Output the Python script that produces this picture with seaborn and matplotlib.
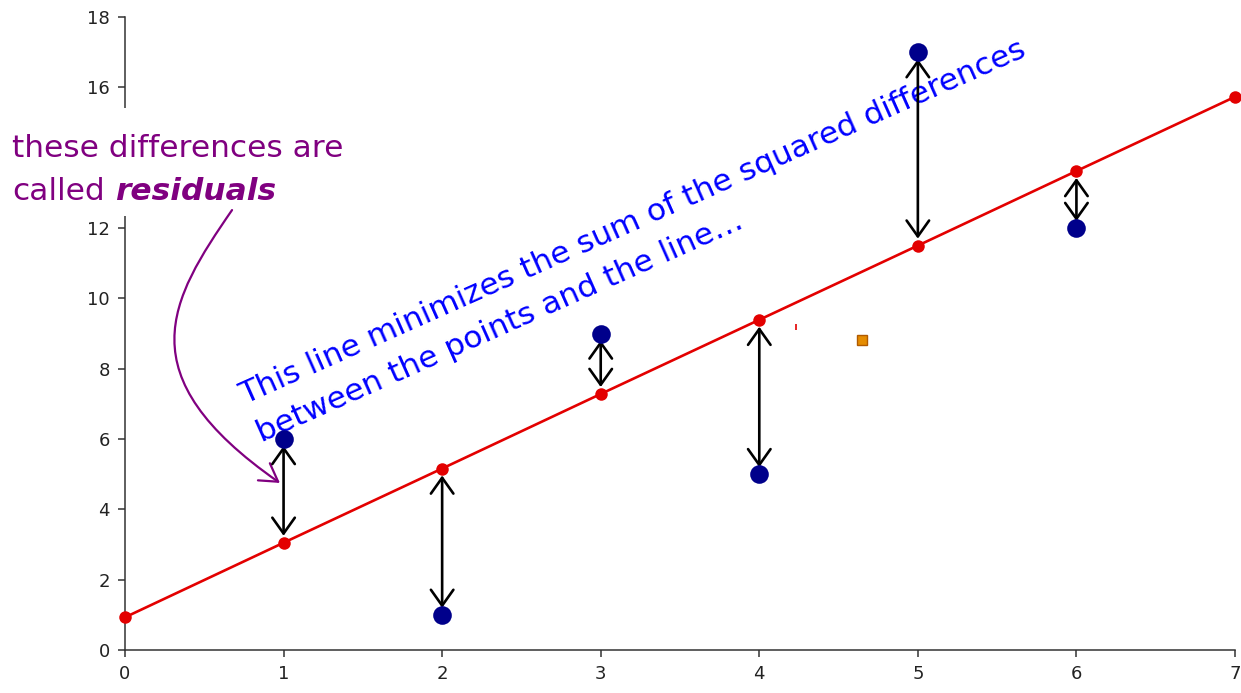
#!/usr/bin/env python3
"""
最小二乘回归线与残差示意图
"""
import numpy as np
import pandas as pd
import matplotlib.pyplot as plt
import seaborn as sns
from matplotlib.patches import FancyArrowPatch, Rectangle
from matplotlib.path import Path

sns.set_style('ticks')
plt.rcParams['font.family'] = ['DejaVu Sans']

# 观测点
X_OBS = [1, 2, 3, 4, 5, 6]
Y_OBS = [6, 1, 9, 5, 17, 12]

# 拟合直线上的点 (x = 0..7)
X_FIT = [0, 1, 2, 3, 4, 5, 6, 7]
Y_FIT = [0.93, 3.05, 5.16, 7.28, 9.39, 11.50, 13.62, 15.73]

# 其他小标记
ORANGE_PT = (4.65, 8.81)
RED_TICK = (4.23, 9.18)

X_TICKS = [0, 1, 2, 3, 4, 5, 6, 7]
Y_TICKS = [0, 2, 4, 6, 8, 10, 12, 14, 16, 18]
# 14 被紫色注释遮住
Y_TICK_LABELS = ['0', '2', '4', '6', '8', '10', '12', '', '16', '18']

BLUE_DOT = '#00008b'
RED = '#e30000'
PURPLE = '#800080'

W, H = 1241, 693

obs = pd.DataFrame({'x': X_OBS, 'y': Y_OBS})
fit = pd.DataFrame({'x': X_FIT, 'y': Y_FIT})

fig = plt.figure(figsize=(W / 100, H / 100), dpi=100)
ax = fig.add_axes([125 / W, 43 / H, 1110 / W, 633 / H])

# 拟合直线
sns.lineplot(data=fit, x='x', y='y', color=RED, linewidth=1.9, marker='o',
             markersize=9, markeredgewidth=0, ax=ax, zorder=3, clip_on=False)

# 残差双箭头
fit_at = dict(zip(X_FIT, Y_FIT))
for xo, yo in zip(X_OBS, Y_OBS):
    ax.annotate('', xy=(xo, fit_at[xo]), xytext=(xo, yo),
                arrowprops=dict(arrowstyle='<->,head_length=0.38,head_width=0.27',
                                mutation_scale=30, color='black', lw=1.9,
                                shrinkA=5, shrinkB=5),
                zorder=4)

# 观测点
sns.scatterplot(data=obs, x='x', y='y', color=BLUE_DOT, s=180, linewidth=0,
                ax=ax, zorder=5, clip_on=False)

ax.plot(*ORANGE_PT, marker='s', markersize=7.5, color='#e58c00',
        markeredgecolor='#b05a00', markeredgewidth=1, zorder=5)
ax.plot(*RED_TICK, marker='|', markersize=4, color=RED, markeredgewidth=1.2, zorder=5)

ax.set_xlim(0, 7)
ax.set_ylim(0, 18)
ax.set_xticks(X_TICKS)
ax.set_yticks(Y_TICKS)
ax.set_yticklabels(Y_TICK_LABELS)
ax.set_xlabel('')
ax.set_ylabel('')
ax.tick_params(labelsize=13, length=5, width=1.1, color='#333333',
               labelcolor='#222222', pad=6)
sns.despine(ax=ax)
for side in ['left', 'bottom']:
    ax.spines[side].set_linewidth(1.1)
    ax.spines[side].set_color('#333333')

# 蓝色倾斜说明文字
ax.text(0.757, 6.97, 'This line minimizes the sum of the squared differences',
        color='blue', fontsize=22.5, rotation=24, rotation_mode='anchor',
        ha='left', va='baseline', zorder=2)
ax.text(0.864, 5.91, 'between the points and the line\u2026',
        color='blue', fontsize=22.5, rotation=24, rotation_mode='anchor',
        ha='left', va='baseline', zorder=2)

# 紫色注释 (白底遮住一段纵轴)
fig.add_artist(Rectangle((80 / W, 1 - 216 / H), 70 / W, 108 / H,
                         transform=fig.transFigure, facecolor='white',
                         edgecolor='none', zorder=2))
fig.text(12 / W, 1 - 157 / H, 'these differences are', color=PURPLE,
         fontsize=22.5, ha='left', va='baseline', zorder=3)
fig.text(12 / W, 1 - 200 / H, 'called', color=PURPLE,
         fontsize=22.5, ha='left', va='baseline', zorder=3)
fig.text(115 / W, 1 - 200 / H, 'residuals', color=PURPLE, fontsize=22.5,
         fontweight='bold', fontstyle='italic', ha='left', va='baseline', zorder=3)

# 弯曲箭头 (三次贝塞尔)
curve = Path([(0.675, 12.51), (0.284, 9.95), (0.0, 7.82), (0.977, 4.75)],
             [Path.MOVETO, Path.CURVE4, Path.CURVE4, Path.CURVE4])
ax.add_patch(FancyArrowPatch(path=curve, arrowstyle='->,head_length=0.5,head_width=0.3',
                             mutation_scale=25, color=PURPLE, lw=1.6,
                             transform=ax.transData, clip_on=False, zorder=3))

plt.savefig('out.png', dpi=100)
plt.close()
